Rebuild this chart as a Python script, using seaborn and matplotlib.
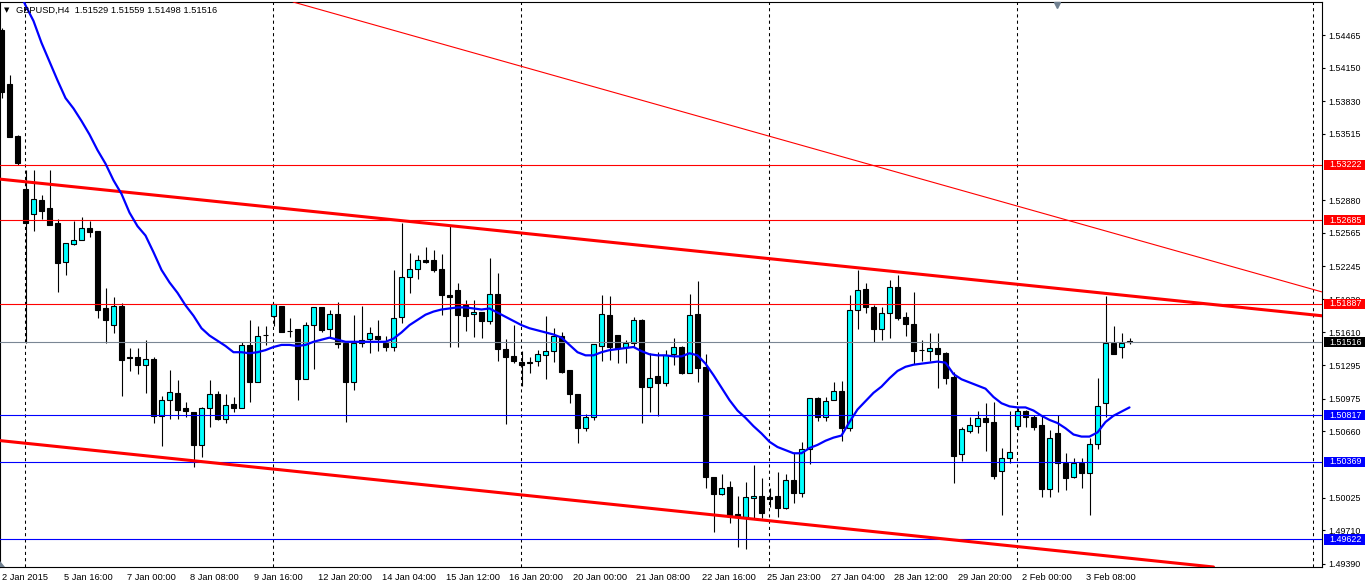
import numpy as np
import matplotlib
matplotlib.use("Agg")
import matplotlib.pyplot as plt
import matplotlib.transforms as mtransforms
from matplotlib.patches import Rectangle, Polygon
import seaborn as sns

# ---------------- data ----------------
header = "GBPUSD,H4  1.51529 1.51559 1.51498 1.51516"

opens = [1.5451, 1.5399, 1.5350, 1.5299, 1.5275, 1.5288, 1.5280, 1.5266, 1.5229, 1.5246,
         1.5250, 1.5261, 1.5258, 1.5184, 1.5168, 1.5186, 1.5137, 1.5137, 1.5130, 1.5135,
         1.5081, 1.5096, 1.5103, 1.5088, 1.5085, 1.5053, 1.5088, 1.5102, 1.5078, 1.5092,
         1.5088, 1.5149, 1.5113, 1.5159, 1.5177, 1.5186, 1.5162, 1.5164, 1.5116, 1.5168,
         1.5185, 1.5164, 1.5179, 1.5151, 1.5113, 1.5154, 1.5155, 1.5158, 1.5151, 1.5147,
         1.5176, 1.5214, 1.5222, 1.5231, 1.5231, 1.5222, 1.5197, 1.5202, 1.5187, 1.5179,
         1.5181, 1.5172, 1.5198, 1.5145, 1.5138, 1.5133, 1.5132, 1.5134, 1.5139, 1.5143,
         1.5158, 1.5125, 1.5102, 1.5069, 1.5080, 1.5148, 1.5178, 1.5159, 1.5147, 1.5151,
         1.5173, 1.5109, 1.5119, 1.5112, 1.5140, 1.5147, 1.5122, 1.5179, 1.5128, 1.5022,
         1.5006, 1.5013, 1.4987, 1.4984, 1.5002, 1.5004, 1.5003, 1.5004, 1.4992, 1.5019,
         1.5007, 1.5049, 1.5098, 1.5080, 1.5096, 1.5105, 1.5069, 1.5183, 1.5203, 1.5185,
         1.5164, 1.5180, 1.5205, 1.5176, 1.5169, 1.5144, 1.5143, 1.5146, 1.5141, 1.5118,
         1.5044, 1.5066, 1.5071, 1.5079, 1.5075, 1.5028, 1.5040, 1.5071, 1.5086, 1.5080,
         1.5072, 1.5011, 1.5064, 1.5036, 1.5022, 1.5036, 1.5026, 1.5054, 1.5093, 1.5151,
         1.5147, 1.51529]

closes = [1.5392, 1.5349, 1.5324, 1.5266, 1.5289, 1.5278, 1.5264, 1.5228, 1.5247, 1.5250,
          1.5261, 1.5257, 1.5183, 1.5173, 1.5186, 1.5135, 1.5136, 1.5130, 1.5135, 1.5081,
          1.5096, 1.5104, 1.5087, 1.5086, 1.5053, 1.5088, 1.5102, 1.5078, 1.5091, 1.5088,
          1.5149, 1.5113, 1.5158, 1.5159, 1.5188, 1.5161, 1.5162, 1.5116, 1.5168, 1.5185,
          1.5163, 1.5179, 1.5150, 1.5113, 1.5151, 1.5151, 1.5160, 1.5155, 1.5147, 1.5175,
          1.5214, 1.5222, 1.5231, 1.5229, 1.5221, 1.5197, 1.5195, 1.5178, 1.5177, 1.5181,
          1.5172, 1.5198, 1.5145, 1.5137, 1.5134, 1.5130, 1.5133, 1.5140, 1.5143, 1.5158,
          1.5123, 1.5102, 1.5069, 1.5080, 1.5150, 1.5179, 1.5147, 1.5146, 1.5151, 1.5173,
          1.5109, 1.5117, 1.5112, 1.5139, 1.5147, 1.5122, 1.5178, 1.5127, 1.5022, 1.5006,
          1.5012, 1.4986, 1.4984, 1.5003, 1.5004, 1.4988, 1.5001, 1.4992, 1.5019, 1.5007,
          1.5049, 1.5098, 1.5080, 1.5095, 1.5105, 1.5069, 1.5183, 1.5202, 1.5185, 1.5164,
          1.5180, 1.5205, 1.5175, 1.5169, 1.5143, 1.5144, 1.5146, 1.5140, 1.5117, 1.5042,
          1.5068, 1.5072, 1.5079, 1.5075, 1.5023, 1.5040, 1.5046, 1.5086, 1.5080, 1.5070,
          1.5011, 1.5060, 1.5036, 1.5021, 1.5036, 1.5026, 1.5054, 1.5090, 1.5151, 1.5140,
          1.5151, 1.51516]

highs = [1.5453, 1.5408, 1.5351, 1.5317, 1.5317, 1.5293, 1.5317, 1.5270, 1.5247, 1.5268,
         1.5272, 1.5268, 1.5258, 1.5204, 1.5195, 1.5189, 1.5146, 1.5146, 1.5154, 1.5137,
         1.5100, 1.5125, 1.5115, 1.5094, 1.5085, 1.5089, 1.5115, 1.5105, 1.5102, 1.5099,
         1.5152, 1.5173, 1.5167, 1.5167, 1.5188, 1.5186, 1.5175, 1.5164, 1.5171, 1.5185,
         1.5185, 1.5183, 1.5190, 1.5151, 1.5178, 1.5186, 1.5166, 1.5173, 1.5158, 1.5221,
         1.5266, 1.5237, 1.5235, 1.5243, 1.5240, 1.5236, 1.5264, 1.5208, 1.5192, 1.5192,
         1.5181, 1.5232, 1.5218, 1.5155, 1.5168, 1.5143, 1.5137, 1.5144, 1.5177, 1.5165,
         1.5161, 1.5125, 1.5102, 1.5083, 1.5150, 1.5197, 1.5196, 1.5159, 1.5154, 1.5176,
         1.5174, 1.5141, 1.5142, 1.5144, 1.5156, 1.5148, 1.5198, 1.5210, 1.5140, 1.5022,
         1.5025, 1.5018, 1.5004, 1.5017, 1.5034, 1.5021, 1.5012, 1.5027, 1.5025, 1.5045,
         1.5056, 1.5098, 1.5099, 1.5099, 1.5113, 1.5114, 1.5197, 1.5221, 1.5208, 1.5187,
         1.5185, 1.5211, 1.5216, 1.5181, 1.5200, 1.5154, 1.5160, 1.5160, 1.5142, 1.5123,
         1.5070, 1.5080, 1.5086, 1.5093, 1.5094, 1.5050, 1.5086, 1.5088, 1.5087, 1.5082,
         1.5081, 1.5067, 1.5082, 1.5045, 1.5040, 1.5040, 1.5060, 1.5117, 1.5196, 1.5167,
         1.5160, 1.51559]

lows = [1.5386, 1.5349, 1.5322, 1.5151, 1.5258, 1.5270, 1.5264, 1.5200, 1.5216, 1.5245,
        1.5250, 1.5253, 1.5175, 1.5151, 1.5160, 1.5100, 1.5124, 1.5121, 1.5103, 1.5074,
        1.5052, 1.5078, 1.5078, 1.5080, 1.5032, 1.5041, 1.5070, 1.5077, 1.5074, 1.5085,
        1.5088, 1.5094, 1.5113, 1.5149, 1.5167, 1.5161, 1.5157, 1.5096, 1.5116, 1.5126,
        1.5161, 1.5156, 1.5146, 1.5075, 1.5106, 1.5147, 1.5141, 1.5143, 1.5143, 1.5143,
        1.5170, 1.5199, 1.5212, 1.5228, 1.5219, 1.5178, 1.5147, 1.5147, 1.5162, 1.5157,
        1.5156, 1.5169, 1.5134, 1.5073, 1.5132, 1.5110, 1.5122, 1.5129, 1.5116, 1.5133,
        1.5122, 1.5093, 1.5055, 1.5066, 1.5077, 1.5134, 1.5135, 1.5132, 1.5132, 1.5147,
        1.5074, 1.5085, 1.5081, 1.5110, 1.5130, 1.5121, 1.5122, 1.5113, 1.5012, 1.4969,
        1.5005, 1.4978, 1.4955, 1.4953, 1.4983, 1.4983, 1.4993, 1.4984, 1.4991, 1.4997,
        1.5003, 1.5035, 1.5076, 1.5076, 1.5096, 1.5057, 1.5066, 1.5164, 1.5180, 1.5152,
        1.5154, 1.5156, 1.5173, 1.5158, 1.5131, 1.5134, 1.5134, 1.5108, 1.5111, 1.5016,
        1.5038, 1.5064, 1.5064, 1.5047, 1.5020, 1.4986, 1.5036, 1.5067, 1.5070, 1.5067,
        1.5003, 1.5003, 1.5008, 1.5010, 1.5021, 1.5012, 1.4986, 1.5049, 1.5080, 1.5140,
        1.5136, 1.51498]

# moving average (blue line) as drawn in the reference; first bars are above the chart
ma_values = [np.nan, np.nan, 1.5492,
             1.5475, 1.5460, 1.5439, 1.5421, 1.5403, 1.5386, 1.5376, 1.5364, 1.5351, 1.5336,
             1.5323, 1.5307, 1.5294, 1.5276, 1.5263, 1.5254, 1.5238, 1.5221, 1.5209, 1.5199,
             1.5187, 1.5177, 1.5165, 1.5158, 1.5153, 1.5148, 1.5142, 1.5142, 1.5141, 1.5142,
             1.5144, 1.5147, 1.5149, 1.5149, 1.5148, 1.5149, 1.5152, 1.5154, 1.5156, 1.5154,
             1.5152, 1.5152, 1.5152, 1.5152, 1.5152, 1.5152, 1.5155, 1.5161, 1.5168, 1.5173,
             1.5178, 1.5181, 1.5183, 1.5184, 1.5185, 1.5185, 1.5184, 1.5183, 1.5184, 1.5180,
             1.5176, 1.5172, 1.5168, 1.5165, 1.5163, 1.5161, 1.5159, 1.5156, 1.5149, 1.5142,
             1.5139, 1.5139, 1.5142, 1.5144, 1.5145, 1.5146, 1.5147, 1.5143, 1.5140, 1.5139,
             1.5139, 1.5138, 1.5138, 1.5141, 1.5139, 1.5131, 1.5120, 1.5108, 1.5096, 1.5086,
             1.5079, 1.5071, 1.5064, 1.5056, 1.5051, 1.5048, 1.5045, 1.5045, 1.5050, 1.5053,
             1.5057, 1.5060, 1.5062, 1.5075, 1.5087, 1.5095, 1.5103, 1.5109, 1.5117, 1.5124,
             1.5128, 1.5130, 1.5131, 1.5132, 1.5133, 1.5132, 1.5121, 1.5116, 1.5113, 1.5110,
             1.5107, 1.5099, 1.5093, 1.5090, 1.5089, 1.5089, 1.5086, 1.5081, 1.5077, 1.5074,
             1.5069, 1.5063, 1.5061, 1.5061, 1.5065, 1.5075, 1.5081, 1.5085, 1.5089]

x_tick_pos = [0, 7.8, 15.7, 23.6, 31.5, 39.6, 47.5, 55.5, 63.4, 71.4, 79.3,
              87.6, 95.7, 103.7, 111.6, 119.6, 127.5, 135.5]
x_tick_labels = ["2 Jan 2015", "5 Jan 16:00", "7 Jan 00:00", "8 Jan 08:00", "9 Jan 16:00",
                 "12 Jan 20:00", "14 Jan 04:00", "15 Jan 12:00", "16 Jan 20:00",
                 "20 Jan 00:00", "21 Jan 08:00", "22 Jan 16:00", "25 Jan 23:00",
                 "27 Jan 04:00", "28 Jan 12:00", "29 Jan 20:00", "2 Feb 00:00", "3 Feb 08:00"]
y_ticks = [1.54465, 1.54150, 1.53830, 1.53515, 1.52880, 1.52565, 1.52245, 1.51930,
           1.51610, 1.51295, 1.50975, 1.50660, 1.50025, 1.49710, 1.49390]

levels = [1.53222, 1.52685, 1.51887, 1.51516, 1.50817, 1.50369, 1.49622]
level_line_colors = ["#ff0000", "#ff0000", "#ff0000", "#7a8694", "#0000ff", "#0000ff", "#0000ff"]
level_box_colors = ["#ff0000", "#ff0000", "#ff0000", "#000000", "#0000ff", "#0000ff", "#0000ff"]

upper_channel = ([0, 160], [1.5308, 1.5181])
lower_channel = ([0, 150], [1.5057, 1.4937])
long_trend = ([37, 165], [1.5477, 1.5200])
separators = [2.94, 33.94, 64.94, 95.94, 126.94, 163.94]

# ---------------- drawing ----------------
sns.set_style("white")
plt.rcParams["font.family"] = ["Liberation Sans", "DejaVu Sans"]

W, H = 1365, 583
fig = plt.figure(figsize=(W / 100, H / 100), dpi=100)
fig.patch.set_facecolor("white")
ax = fig.add_axes([0.0, 16 / H, 1322 / W, 565 / H])
ax.set_facecolor("white")

n = len(opens)
bars = np.arange(n)
o = np.array(opens); c = np.array(closes); hi = np.array(highs); lo = np.array(lows)

ax.set_xlim(-0.1875, 165.0625)
ax.set_ylim(1.49358, 1.54782)

# separators
for s in separators:
    ax.axvline(s, color="black", lw=0.75, ls=(0, (3, 3)), zorder=1)

# candles
ax.vlines(bars, lo, hi, color="black", lw=0.8, zorder=2)
bull = c > o
body_bottom = np.minimum(o, c)
body_h = np.abs(c - o)
face = np.where(bull, "#00ffff", "#000000")
ax.bar(bars, body_h, bottom=body_bottom, width=0.6, color=face,
       edgecolor="black", linewidth=0.8, zorder=3)

# horizontal levels
for lv, col in zip(levels, level_line_colors):
    ax.axhline(lv, color=col, lw=0.8, zorder=4)

# trend lines
ax.axline((upper_channel[0][0], upper_channel[1][0]), (upper_channel[0][1], upper_channel[1][1]),
          color="#ff0000", lw=2.2, zorder=4)
ax.axline((lower_channel[0][0], lower_channel[1][0]), (lower_channel[0][1], lower_channel[1][1]),
          color="#ff0000", lw=2.2, zorder=4)
ax.axline((long_trend[0][0], long_trend[1][0]), (long_trend[0][1], long_trend[1][1]),
          color="#ff0000", lw=0.8, zorder=4)

# moving average
sns.lineplot(x=bars, y=ma_values, ax=ax, color="#0000ff", linewidth=1.6, zorder=5,
             legend=False)

# axes styling
for side in ["left", "right", "bottom", "top"]:
    ax.spines[side].set_color("black")
    ax.spines[side].set_linewidth(0.8)

ax.yaxis.tick_right()
ax.set_yticks(y_ticks)
ax.set_yticklabels([f"{v:.5f}" for v in y_ticks])
ax.tick_params(axis="y", direction="out", length=2.5, width=0.8, pad=2,
               labelsize=6.4, colors="black", left=False, right=True)
ax.set_xticks(x_tick_pos)
ax.set_xticklabels(x_tick_labels, ha="left")
ax.tick_params(axis="x", direction="out", length=2.5, width=0.8, pad=1.5,
               labelsize=6.7, colors="black")
ax.set_xlabel("")
ax.set_ylabel("")
ax.grid(False)

# price labels on the axis (coloured boxes)
blend = mtransforms.blended_transform_factory(ax.transAxes, ax.transData)
box_h = 10 * (1.54782 - 1.49358) / 565
for lv, col in zip(levels, level_box_colors):
    ax.add_patch(Rectangle((1324 / 1322, lv - box_h / 2), 45 / 1322, box_h,
                           transform=blend, facecolor=col, edgecolor="none",
                           clip_on=False, zorder=6))
    ax.text(1329 / 1322, lv, f"{lv:.5f}", transform=blend, ha="left", va="center",
            fontsize=6.4, color="white", clip_on=False, zorder=7)

# header
ax.text(4 / 1322, 1 - 8 / 565, "\u25bc", transform=ax.transAxes, fontsize=5,
        va="center", ha="left", color="black", family=["DejaVu Sans"], zorder=7)
ax.text(16 / 1322, 1 - 8 / 565, header, transform=ax.transAxes, fontsize=6.7,
        va="center", ha="left", color="black", zorder=7)

# chart shift marker and corner marker
ax.plot([1057 / 1322], [1 - 3 / 565], transform=ax.transAxes, marker="v", ms=5,
        color="#708090", clip_on=False, zorder=7)
ax.add_patch(Polygon([(0, 0), (5 / 1322, 0), (0, 6 / 565)], closed=True,
                     transform=ax.transAxes, facecolor="#708090", edgecolor="none",
                     zorder=7))

fig.savefig("out.png", dpi=100, facecolor="white")
